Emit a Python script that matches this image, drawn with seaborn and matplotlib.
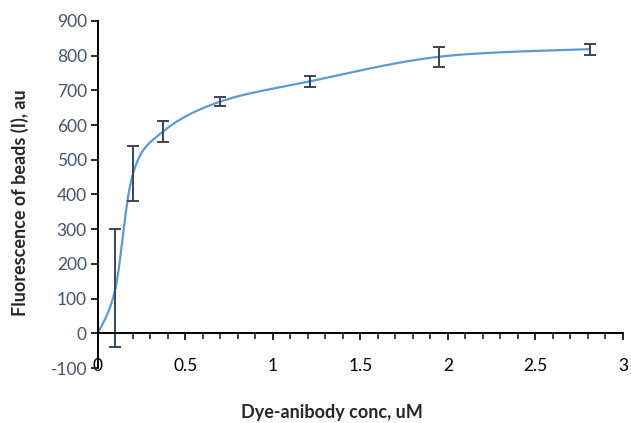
import numpy as np
import pandas as pd
import seaborn as sns
import matplotlib.pyplot as plt
from matplotlib.ticker import MultipleLocator

# data
conc = [0.0, 0.1, 0.2, 0.37, 0.7, 1.21, 1.95, 2.81]
fluor = [0, 130, 460, 581, 668, 726, 797, 819]
err = [0, 170, 80, 30, 14, 16, 29, 16]

x_ticks = [0, 0.5, 1, 1.5, 2, 2.5, 3]
x_labels = ["0", "0.5", "1", "1.5", "2", "2.5", "3"]
y_ticks = [-100, 0, 100, 200, 300, 400, 500, 600, 700, 800, 900]

sns.set_style("white")
plt.rcParams['font.family'] = ['Lato', 'DejaVu Sans']
plt.rcParams['axes.unicode_minus'] = False


# Excel style smoothed line (bezier through the points)
def smooth(xs, ys, n=30):
    p = np.column_stack([xs, ys]).astype(float)
    p = np.vstack([p[0], p, p[-1]])
    out = []
    for i in range(1, len(p) - 2):
        p0, p1, p2, p3 = p[i - 1], p[i], p[i + 1], p[i + 2]
        c1 = p1 + (p2 - p0) / 6
        c2 = p2 - (p3 - p1) / 6
        t = np.linspace(0, 1, n)[:, None]
        seg = ((1 - t) ** 3) * p1 + 3 * ((1 - t) ** 2) * t * c1 + 3 * (1 - t) * t ** 2 * c2 + t ** 3 * p2
        out.append(seg)
    seg = np.vstack(out)
    return seg[:, 0], seg[:, 1]


sx, sy = smooth(conc, fluor)
curve = pd.DataFrame({"x": sx, "y": sy})

fig = plt.figure(figsize=(6.31, 4.23), dpi=100)
ax = fig.add_axes([0.1553, 0.130, 0.832, 0.8204])

sns.lineplot(data=curve, x="x", y="y", ax=ax, color="#5B9BD5", linewidth=1.6, sort=False)
ax.errorbar(conc[1:], fluor[1:], yerr=err[1:], fmt="none", ecolor="#3B4454",
            elinewidth=1.4, capsize=4.5, capthick=1.4)

ax.set_xlim(0, 3)
ax.set_ylim(-100, 900)
ax.set_xticks(x_ticks)
ax.set_xticklabels(x_labels)
ax.xaxis.set_minor_locator(MultipleLocator(0.1))
ax.set_yticks(y_ticks)

ax.spines["top"].set_visible(False)
ax.spines["right"].set_visible(False)
ax.spines["bottom"].set_position(("data", 0))
ax.spines["bottom"].set_linewidth(1.4)
ax.spines["left"].set_linewidth(1.4)
ax.spines["bottom"].set_color("black")
ax.spines["left"].set_color("black")

ax.tick_params(axis="x", which="major", direction="out", length=5, width=1.4,
               pad=13, labelsize=12.5, labelcolor="black", bottom=True)
ax.tick_params(axis="x", which="minor", direction="out", length=4, width=1.2, bottom=True)
ax.tick_params(axis="y", which="major", direction="out", length=5, width=1.4,
               pad=3, labelsize=12.5, labelcolor="#44546A", left=True)

ax.set_xlabel("")
ax.set_ylabel("")
fig.text(0.526, 0.024, "Dye-anibody conc, uM", ha="center", va="center",
         fontsize=13, fontweight="bold")
fig.text(0.032, 0.52, "Fluorescence of beads (I), au", ha="center", va="center",
         rotation=90, fontsize=13, fontweight="bold")

fig.savefig("out.png", dpi=100)
